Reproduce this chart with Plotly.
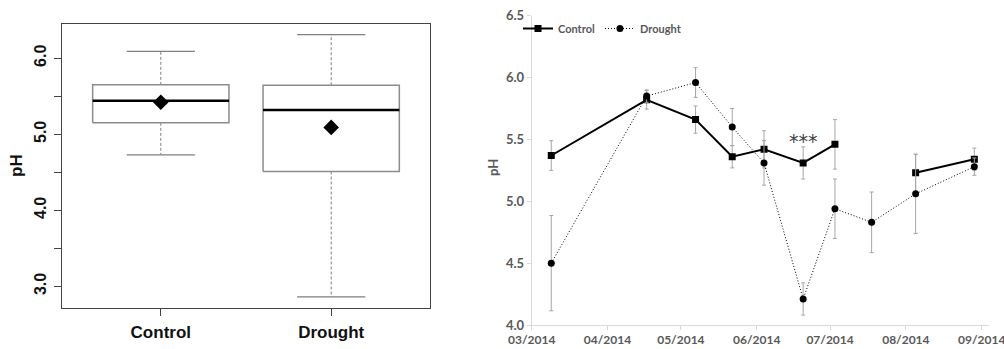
import plotly.graph_objects as go

# ---------------- data ----------------
# Left: box-plot summary statistics
box_groups = ["Control", "Drought"]
box_lower = [4.73, 2.86]
box_q1 = [5.15, 4.51]
box_median = [5.44, 5.32]
box_q3 = [5.65, 5.645]
box_upper = [6.09, 6.31]
box_mean = [5.42, 5.09]

left_ticks = [3.0, 3.5, 4.0, 4.5, 5.0, 5.5, 6.0]
left_ticktext = ["3.0", "", "4.0", "", "5.0", "", "6.0"]

# Right: time series
dates = ["2014-03-09", "2014-04-17", "2014-05-07", "2014-05-22", "2014-06-04",
         "2014-06-20", "2014-07-03", "2014-07-18", "2014-08-05", "2014-08-29"]
control_ph = [5.37, 5.82, 5.66, 5.36, 5.42, 5.31, 5.46, None, 5.23, 5.34]
control_err = [0.12, 0.075, 0.11, 0.09, 0.15, 0.13, 0.20, None, 0.15, 0.09]
drought_ph = [4.50, 5.85, 5.96, 5.60, 5.31, 4.21, 4.94, 4.83, 5.06, 5.28]
drought_err = [0.385, 0.05, 0.12, 0.15, 0.18, 0.13, 0.24, 0.245, 0.32, 0.07]
month_ticks = ["2014-03-01", "2014-04-01", "2014-05-01", "2014-06-01",
               "2014-07-01", "2014-08-01", "2014-09-01"]
signif_label = "***"
signif_index = 5

W, H = 1004, 349

def px_x(p):
    return p / W

def px_y(p):
    return 1 - p / H

fig = go.Figure()

# ---------------- left panel (box plot) ----------------
BOX_GRAY = "#8c8c8c"
half_w = 0.4
cap_w = 0.2
for i, name in enumerate(box_groups):
    c = i + 1
    fig.add_trace(go.Scatter(
        x=[c, c, None, c, c], y=[box_q3[i], box_upper[i], None, box_q1[i], box_lower[i]],
        mode="lines", line=dict(color="#7f7f7f", width=1, dash="3px,2px"),
        xaxis="x", yaxis="y", showlegend=False, hoverinfo="skip"))
    fig.add_trace(go.Scatter(
        x=[c - cap_w, c + cap_w, None, c - cap_w, c + cap_w],
        y=[box_upper[i], box_upper[i], None, box_lower[i], box_lower[i]],
        mode="lines", line=dict(color="#7f7f7f", width=1.2),
        xaxis="x", yaxis="y", showlegend=False, hoverinfo="skip"))
    fig.add_trace(go.Scatter(
        x=[c - half_w, c + half_w, c + half_w, c - half_w, c - half_w],
        y=[box_q1[i], box_q1[i], box_q3[i], box_q3[i], box_q1[i]],
        mode="lines", fill="toself", fillcolor="white",
        line=dict(color=BOX_GRAY, width=1.5),
        xaxis="x", yaxis="y", showlegend=False, hoverinfo="skip"))
    fig.add_trace(go.Scatter(
        x=[c - half_w, c + half_w], y=[box_median[i], box_median[i]],
        mode="lines", line=dict(color="black", width=2.5),
        xaxis="x", yaxis="y", showlegend=False, hoverinfo="skip"))
fig.add_trace(go.Scatter(
    x=[i + 1 for i in range(len(box_groups))], y=box_mean, mode="markers",
    marker=dict(symbol="diamond", size=12, color="black"),
    xaxis="x", yaxis="y", showlegend=False))

# ---------------- right panel (time series) ----------------
ERR_GRAY = "#a6a6a6"
fig.add_trace(go.Scatter(
    x=dates, y=control_ph, name="Control", mode="lines+markers",
    line=dict(color="black", width=2),
    marker=dict(symbol="square", size=7, color="black"),
    error_y=dict(type="data", array=control_err, color=ERR_GRAY, thickness=1, width=2),
    connectgaps=False, xaxis="x2", yaxis="y2"))
fig.add_trace(go.Scatter(
    x=dates, y=drought_ph, name="Drought", mode="lines+markers",
    line=dict(color="black", width=1, dash="1px,2px"),
    marker=dict(symbol="circle", size=7, color="black"),
    error_y=dict(type="data", array=drought_err, color=ERR_GRAY, thickness=1, width=2),
    xaxis="x2", yaxis="y2"))

GRAY_TXT = "#595959"
AX_GRAY = "#d9d9d9"

fig.update_layout(
    width=W, height=H,
    margin=dict(l=0, r=0, t=0, b=0, autoexpand=False),
    paper_bgcolor="white", plot_bgcolor="white",
    font=dict(family="Liberation Sans, Arial", color="black"),
    xaxis=dict(
        domain=[px_x(62), px_x(430)], range=[0.42, 2.58],
        tickvals=[1, 2], ticktext=box_groups,
        tickfont=dict(size=17, family="Liberation Sans, Arial", weight="bold", color="#111"),
        ticks="outside", ticklen=7, tickcolor="#444",
        showline=True, mirror=True, linecolor="#444", linewidth=1,
        showgrid=False, zeroline=False, anchor="y", ticklabelstandoff=2,
        automargin=False),
    yaxis=dict(
        domain=[px_y(308), px_y(24)], range=[2.715, 6.45],
        tickvals=left_ticks, ticktext=left_ticktext, tickangle=-90,
        tickfont=dict(size=16, family="Liberation Sans, Arial", weight="bold", color="#111"),
        ticks="outside", ticklen=7, tickcolor="#444",
        showline=True, mirror=True, linecolor="#444", linewidth=1,
        showgrid=False, zeroline=False, anchor="x", ticklabelstandoff=2,
        automargin=False),
    xaxis2=dict(
        domain=[px_x(531.7), px_x(989)], type="date",
        range=["2014-03-01", "2014-09-04"],
        tickvals=month_ticks, tickformat="%m/%Y", ticklabeloverflow="allow",
        tickfont=dict(size=12, family="Lato", weight="bold", color=GRAY_TXT),
        ticks="outside", ticklen=4, tickcolor=AX_GRAY,
        showline=True, linecolor=AX_GRAY, linewidth=1,
        showgrid=False, zeroline=False, anchor="y2", automargin=False),
    yaxis2=dict(
        domain=[px_y(325), px_y(15.7)], range=[4.0, 6.5], dtick=0.5, tick0=4.0,
        tickformat=".1f",
        tickfont=dict(size=13, family="Lato", weight="bold", color=GRAY_TXT),
        ticks="outside", ticklen=4, tickcolor=AX_GRAY,
        showline=True, linecolor=AX_GRAY, linewidth=1,
        showgrid=False, zeroline=False, anchor="x2", automargin=False),
    legend=dict(
        orientation="h", x=px_x(518), y=px_y(14), xanchor="left", yanchor="top",
        font=dict(size=11, family="Lato", weight="bold", color=GRAY_TXT),
        bgcolor="rgba(0,0,0,0)", tracegroupgap=0),
    annotations=[
        dict(text="pH", x=px_x(17), y=px_y(166), xref="paper", yref="paper",
             xanchor="center", yanchor="middle",
             textangle=-90, showarrow=False,
             font=dict(size=17, family="Liberation Sans, Arial", weight="bold", color="#111")),
        dict(text="pH", x=px_x(493), y=px_y(168), xref="paper", yref="paper",
             xanchor="center", yanchor="middle",
             textangle=-90, showarrow=False,
             font=dict(size=13, family="Lato", weight="bold", color=GRAY_TXT)),
        dict(text=signif_label, x=dates[signif_index], y=5.49, xref="x2", yref="y2",
             showarrow=False, font=dict(size=19, family="DejaVu Sans", color="#404040")),
    ],
)

fig.write_html("out.html")
